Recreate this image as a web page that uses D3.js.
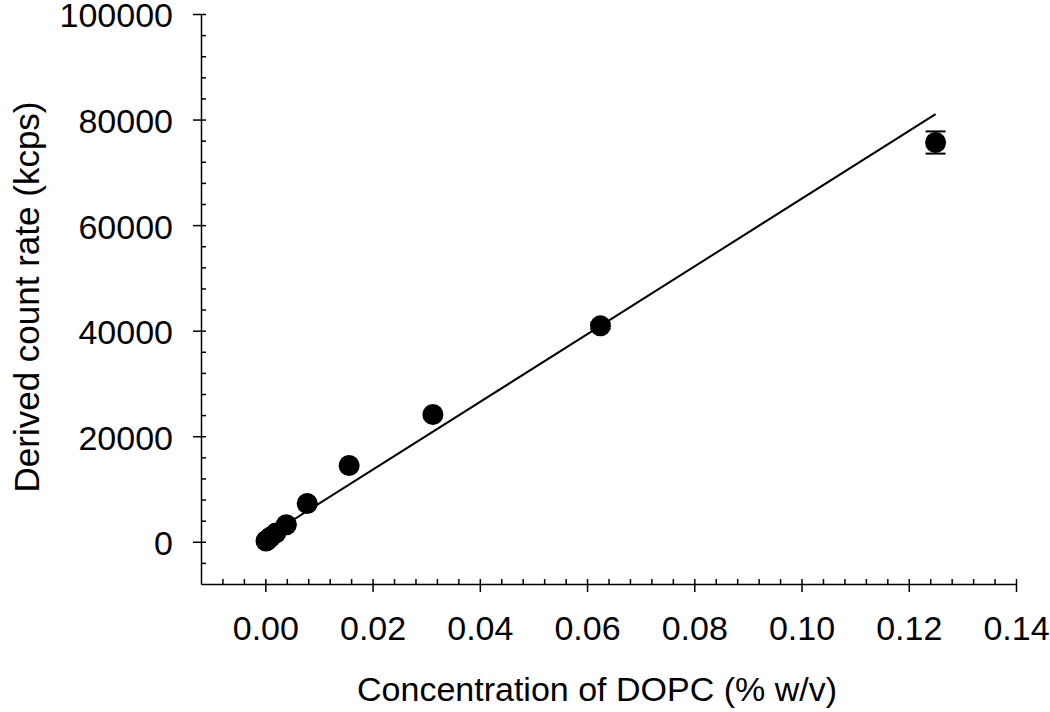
<!DOCTYPE html>
<html lang="en">
    <head>
        <meta charset="utf-8">
        <title>Derived count rate vs DOPC concentration</title>
        <script src="https://d3js.org/d3.v7.min.js"></script>
        <style type="text/css">
        body { margin: 0; background: #fff; }

        .tick text {
            font-size: 34px;
            font-family: "Liberation Sans", Arial, sans-serif;
            fill: #000;
        }

        .label {
            font-size: 34px;
            font-family: "Liberation Sans", Arial, sans-serif;
            fill: #000;
        }
        </style>
    </head>
    <body>
    <div id="vis"></div>

    <script type="text/javascript">

        const width = 1050;
        const height = 712;

        // DOPC concentration (% w/v), count rate (kcps), error (kcps)
        const concentration = [0.000122, 0.000244, 0.000488, 0.000977, 0.001953, 0.003906, 0.0078125, 0.015625, 0.03125, 0.0625, 0.125];
        const countRate = [150, 250, 450, 900, 1650, 3220, 7250, 14460, 24120, 40920, 75650];
        const countErr = [20, 30, 40, 60, 100, 150, 250, 350, 400, 600, 2100];

        // linear fit drawn in the figure
        const fitSlope = 641760;
        const fitIntercept = 810;
        const fitRange = [0, 0.125];

        const xTicks = [0, 0.02, 0.04, 0.06, 0.08, 0.10, 0.12, 0.14];
        const yTicks = [0, 20000, 40000, 60000, 80000, 100000];

        const dataset = concentration.map((c, i) => ({x: c, y: countRate[i], e: countErr[i]}));

        const xScale = d3.scaleLinear()
                         .domain([-0.012, 0.14])
                         .range([201, 1016]);

        const yScale = d3.scaleLinear()
                         .domain([-8000, 100000])
                         .range([584, 14]);

        const svg = d3.select("#vis")
                      .append("svg")
                      .attr("width", width)
                      .attr("height", height);

        // minor ticks (inside)
        svg.append("g")
           .attr("transform", "translate(0,584)")
           .call(d3.axisTop(xScale)
                   .tickValues(d3.range(-0.008, 0.1401, 0.004))
                   .tickSize(5).tickSizeOuter(0).tickFormat(""))
           .call(g => g.select(".domain").remove())
           .selectAll("line").attr("stroke-width", 1.5);

        svg.append("g")
           .attr("transform", "translate(201,0)")
           .call(d3.axisRight(yScale)
                   .tickValues(d3.range(-4000, 100001, 4000))
                   .tickSize(5).tickSizeOuter(0).tickFormat(""))
           .call(g => g.select(".domain").remove())
           .selectAll("line").attr("stroke-width", 1.5);

        // major axes
        svg.append("g")
           .attr("transform", "translate(0,584)")
           .call(d3.axisBottom(xScale)
                   .tickValues(xTicks)
                   .tickSize(8).tickSizeOuter(0).tickPadding(24)
                   .tickFormat(d3.format(".2f")))
           .call(g => g.selectAll("line, path").attr("stroke-width", 1.5));

        svg.append("g")
           .attr("transform", "translate(201,0)")
           .call(d3.axisLeft(yScale)
                   .tickValues(yTicks)
                   .tickSize(8).tickSizeOuter(0).tickPadding(20)
                   .tickFormat(d3.format("d")))
           .call(g => g.selectAll("line, path").attr("stroke-width", 1.5))
           .call(g => g.selectAll("text").attr("dy", "0.38em"));

        // fit line
        svg.append("line")
           .attr("x1", xScale(fitRange[0]))
           .attr("y1", yScale(fitSlope * fitRange[0] + fitIntercept))
           .attr("x2", xScale(fitRange[1]))
           .attr("y2", yScale(fitSlope * fitRange[1] + fitIntercept))
           .attr("stroke", "black")
           .attr("stroke-width", 2);

        // error bars
        const eb = svg.selectAll(".err")
                      .data(dataset)
                      .enter()
                      .append("g")
                      .attr("class", "err");

        eb.append("line")
          .attr("x1", d => xScale(d.x))
          .attr("x2", d => xScale(d.x))
          .attr("y1", d => yScale(d.y - d.e))
          .attr("y2", d => yScale(d.y + d.e))
          .attr("stroke", "black").attr("stroke-width", 2);

        eb.selectAll(".cap")
          .data(d => [d.y - d.e, d.y + d.e].map(v => ({x: d.x, v: v})))
          .enter()
          .append("line")
          .attr("x1", d => xScale(d.x) - 10)
          .attr("x2", d => xScale(d.x) + 10)
          .attr("y1", d => yScale(d.v))
          .attr("y2", d => yScale(d.v))
          .attr("stroke", "black").attr("stroke-width", 2);

        svg.selectAll(".dot")
           .data(dataset)
           .enter()
           .append("circle")
           .attr("class", "dot")
           .attr("cx", d => xScale(d.x))
           .attr("cy", d => yScale(d.y))
           .attr("r", 10.5)
           .attr("fill", "black");

        // axis labels
        svg.append("text")
           .attr("class", "label")
           .attr("x", 597)
           .attr("y", 701)
           .attr("text-anchor", "middle")
           .text("Concentration of DOPC (% w/v)");

        svg.append("text")
           .attr("class", "label")
           .attr("transform", "translate(39,297) rotate(-90)")
           .attr("text-anchor", "middle")
           .style("font-size", "35px")
           .text("Derived count rate (kcps)");

    </script>
    </body>
</html>
